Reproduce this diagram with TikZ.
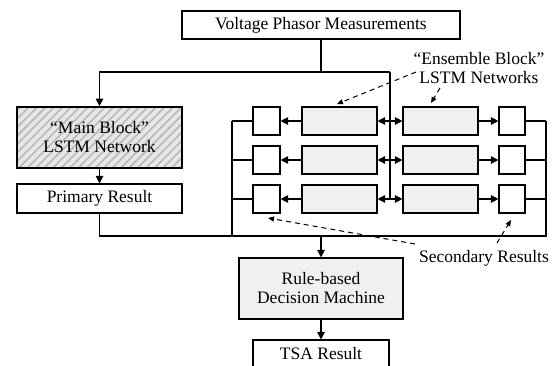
\documentclass[tikz,border=0pt]{standalone}
\usepackage{fontspec}
\setmainfont{Liberation Serif}
\usetikzlibrary{arrows.meta,patterns.meta}
\definecolor{boxgray}{HTML}{F0F0F0}
\definecolor{hatchgray}{HTML}{B8B8B8}
\definecolor{hatchbg}{HTML}{E6E6E6}
\begin{document}
\begin{tikzpicture}[x=1pt,y=-1pt,
  txt/.style={font=\fontsize{17.5}{19}\selectfont, align=center},
  box/.style={draw, line width=1.1pt, rectangle, inner sep=0pt, txt},
  graybox/.style={box, fill=boxgray},
  hatchbox/.style={box, preaction={fill=hatchbg},
    pattern={Lines[angle=45,distance=6pt,line width=1.6pt]}, pattern color=hatchgray},
  ln/.style={line width=1.1pt},
  arr/.style={ln, -{Triangle[length=7.5pt,width=7.5pt]}},
  darr/.style={line width=1pt, dash pattern=on 5pt off 4pt, -{Triangle[length=6pt,width=5pt]}},
]
\useasboundingbox (0,0) rectangle (556,365);

% main nodes
\node[box, minimum width=278pt, minimum height=28pt] (top) at (321,25) {Voltage Phasor Measurements};
\node[hatchbox, minimum width=165pt, minimum height=61pt] (main) at (99.5,137.5) {\textquotedblleft Main Block\textquotedblright\\LSTM Network};
\node[box, minimum width=165pt, minimum height=29pt] (prim) at (99.5,198.5) {Primary Result};
\node[graybox, minimum width=164pt, minimum height=61pt] (rule) at (321,288.5) {Rule-based\\Decision Machine};
\node[box, minimum width=136pt, minimum height=28pt] (tsa) at (321,354) {TSA Result};

% ensemble rows
\foreach \i/\y in {1/121,2/160,3/199}{
  \node[box, minimum width=27pt, minimum height=28pt] (sl\i) at (266.5,\y) {};
  \node[graybox, minimum width=75pt, minimum height=28pt] (gl\i) at (339.5,\y) {};
  \node[graybox, minimum width=75pt, minimum height=28pt] (gr\i) at (440.5,\y) {};
  \node[box, minimum width=26pt, minimum height=28pt] (sr\i) at (512,\y) {};
  \coordinate (v\i) at (390,\y);
  \coordinate (lb\i) at (232,\y);
  \coordinate (rb\i) at (546,\y);
  \draw[arr] (gl\i) -- (sl\i);
  \draw[arr] (gr\i) -- (sr\i);
  \draw[arr] (v\i) -- (gl\i.east);
  \draw[arr] (v\i) -- (gr\i.west);
  \draw[ln] (lb\i) -- (sl\i.west);
  \draw[ln] (sr\i.east) -- (rb\i);
}

% coordinates
\coordinate (split) at (321,72);
\coordinate (lsplit) at (99.5,72);
\coordinate (vtop) at (390,72);
\coordinate (lbot) at (232,236);
\coordinate (rbot) at (546,236);
\coordinate (pbot) at (99.5,236);
\coordinate (mid) at (321,236);

% feed lines
\draw[ln] (top.south) -- (split);
\draw[arr] (vtop) -- (lsplit) -- (main.north);
\draw[ln] (vtop) -- (v3);
\draw[arr] (main) -- (prim);

% collection
\draw[ln] (prim.south) -- (pbot) -- (rbot) -- (rb1);
\draw[ln] (lb1) -- (lbot);
\draw[arr] (mid) -- (rule);
\draw[arr] (rule) -- (tsa);

% annotations
\node[txt, inner sep=0pt] (ens) at (479,68) {\textquotedblleft Ensemble Block\textquotedblright\\LSTM Networks};
\node[txt, inner sep=0pt] (sec) at (484,258) {Secondary Results};

\coordinate (e1s) at (416,72);
\coordinate (e1t) at (337,104);
\coordinate (e2s) at (440,88);
\coordinate (e2t) at (431,103);
\coordinate (s1s) at (415,244);
\coordinate (s1t) at (268,218);
\coordinate (s2s) at (497,243);
\coordinate (s2t) at (511,220);
\draw[darr] (e1s) -- (e1t);
\draw[darr] (e2s) -- (e2t);
\draw[darr] (s1s) -- (s1t);
\draw[darr] (s2s) -- (s2t);
\end{tikzpicture}
\end{document}
